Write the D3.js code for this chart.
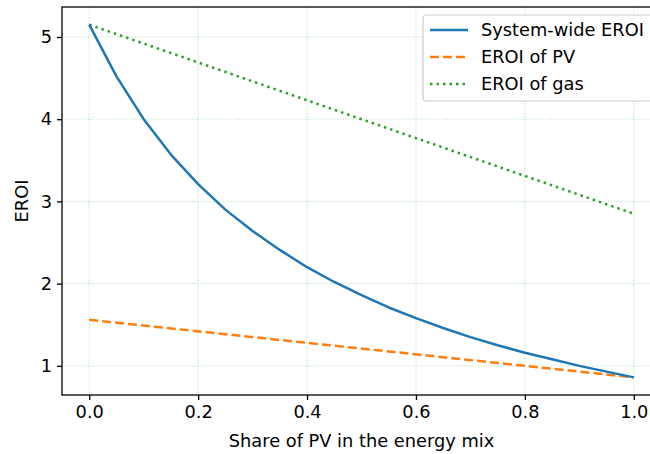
<!DOCTYPE html>
<html>
<head>
<meta charset="utf-8">
<script src="https://cdn.jsdelivr.net/npm/d3@7"></script>
<style>
  body { margin: 0; background: #fff; }
  svg { font-family: "DejaVu Sans", sans-serif; }
</style>
</head>
<body>
<div id="chart"></div>
<script>
// data
var pvShare = [0, 0.05, 0.1, 0.15, 0.2, 0.25, 0.3, 0.35, 0.4, 0.45, 0.5,
               0.55, 0.6, 0.65, 0.7, 0.75, 0.8, 0.85, 0.9, 0.95, 1.0];
var systemEroi = [5.15, 4.52, 4.00, 3.57, 3.21, 2.90, 2.64, 2.41, 2.20, 2.02, 1.86,
                  1.71, 1.58, 1.46, 1.35, 1.25, 1.16, 1.08, 1.00, 0.93, 0.86];
var pvEroi = [1.56, 0.86];
var gasEroi = [5.15, 2.85];
var pvEnds = [0, 1];
var xTicks = [0, 0.2, 0.4, 0.6, 0.8, 1.0];
var yTicks = [1, 2, 3, 4, 5];
var seriesNames = ["System-wide EROI", "EROI of PV", "EROI of gas"];

var W = 650, H = 454;
var margin = {top: 7, right: -11, bottom: 59, left: 62};
var width = W - margin.left - margin.right,
    height = H - margin.top - margin.bottom;
var fs = "17.8px";

var svg = d3.select("#chart")
  .append("svg")
    .attr("width", W)
    .attr("height", H)
  .append("g")
    .attr("transform", "translate(" + margin.left + "," + margin.top + ")");

var x = d3.scaleLinear().domain([-0.05, 1.05]).range([0, width]);
var y = d3.scaleLinear().domain([0.6455, 5.3645]).range([height, 0]);

// grid
svg.append("g").selectAll("line")
  .data(xTicks).enter().append("line")
    .attr("x1", function(d) { return x(d); })
    .attr("x2", function(d) { return x(d); })
    .attr("y1", 0).attr("y2", height)
    .attr("stroke", "#2ca02c").attr("stroke-opacity", 0.45)
    .attr("stroke-width", 0.8).attr("stroke-dasharray", "1,1.6");
svg.append("g").selectAll("line")
  .data(yTicks).enter().append("line")
    .attr("y1", function(d) { return y(d); })
    .attr("y2", function(d) { return y(d); })
    .attr("x1", 0).attr("x2", width)
    .attr("stroke", "#2ca02c").attr("stroke-opacity", 0.45)
    .attr("stroke-width", 0.8).attr("stroke-dasharray", "1,1.6");

// lines
var line = d3.line()
  .x(function(d) { return x(d[0]); })
  .y(function(d) { return y(d[1]); });

svg.append("path")
  .datum(pvEnds.map(function(s, i) { return [s, gasEroi[i]]; }))
  .attr("d", line)
  .attr("fill", "none").attr("stroke", "#2ca02c")
  .attr("stroke-width", 2.5).attr("stroke-dasharray", "2.5,4");

svg.append("path")
  .datum(pvEnds.map(function(s, i) { return [s, pvEroi[i]]; }))
  .attr("d", line)
  .attr("fill", "none").attr("stroke", "#ff7f0e")
  .attr("stroke-width", 2.5).attr("stroke-dasharray", "9,4");

svg.append("path")
  .datum(pvShare.map(function(s, i) { return [s, systemEroi[i]]; }))
  .attr("d", line)
  .attr("fill", "none").attr("stroke", "#1f77b4")
  .attr("stroke-width", 2.5).attr("stroke-linejoin", "round");

// axes
var xAxis = svg.append("g")
  .attr("transform", "translate(0," + height + ")")
  .call(d3.axisBottom(x).tickValues(xTicks).tickFormat(d3.format(".1f"))
        .tickSize(5).tickPadding(5));
var yAxis = svg.append("g")
  .call(d3.axisLeft(y).tickValues(yTicks).tickFormat(d3.format("d"))
        .tickSize(5).tickPadding(5));
[xAxis, yAxis].forEach(function(a) {
  a.select(".domain").remove();
  a.selectAll("line").attr("stroke", "#000").attr("stroke-width", 1.3);
  a.selectAll("text").attr("fill", "#000").style("font-size", fs)
    .style("font-family", "DejaVu Sans");
});

// spines
svg.append("rect")
  .attr("x", 0).attr("y", 0).attr("width", width).attr("height", height)
  .attr("fill", "none").attr("stroke", "#000").attr("stroke-width", 1.3);

// axis labels
svg.append("text")
  .attr("x", x(0.5)).attr("y", height + 52)
  .attr("text-anchor", "middle")
  .style("font-size", fs)
  .text("Share of PV in the energy mix");
svg.append("text")
  .attr("transform", "translate(-34," + (height / 2) + ")rotate(-90)")
  .attr("text-anchor", "middle")
  .style("font-size", fs)
  .text("EROI");

// legend
var legend = svg.append("g").attr("transform", "translate(" + (423 - margin.left) + "," + (15 - margin.top) + ")");
legend.append("rect")
  .attr("x", 0).attr("y", 0).attr("width", 240).attr("height", 86).attr("rx", 3)
  .attr("fill", "#fff").attr("fill-opacity", 0.8)
  .attr("stroke", "#ccc").attr("stroke-width", 1.2);
var legendStyles = [
  {color: "#1f77b4", dash: null},
  {color: "#ff7f0e", dash: "9,4"},
  {color: "#2ca02c", dash: "2.5,4"}
];
seriesNames.forEach(function(name, i) {
  var ly = 15 + i * 27;
  legend.append("line")
    .attr("x1", 7).attr("x2", 45).attr("y1", ly).attr("y2", ly)
    .attr("stroke", legendStyles[i].color).attr("stroke-width", 2.5)
    .attr("stroke-dasharray", legendStyles[i].dash);
  legend.append("text")
    .attr("x", 58).attr("y", ly).attr("dy", "0.35em")
    .style("font-size", fs)
    .text(name);
});
</script>
</body>
</html>
